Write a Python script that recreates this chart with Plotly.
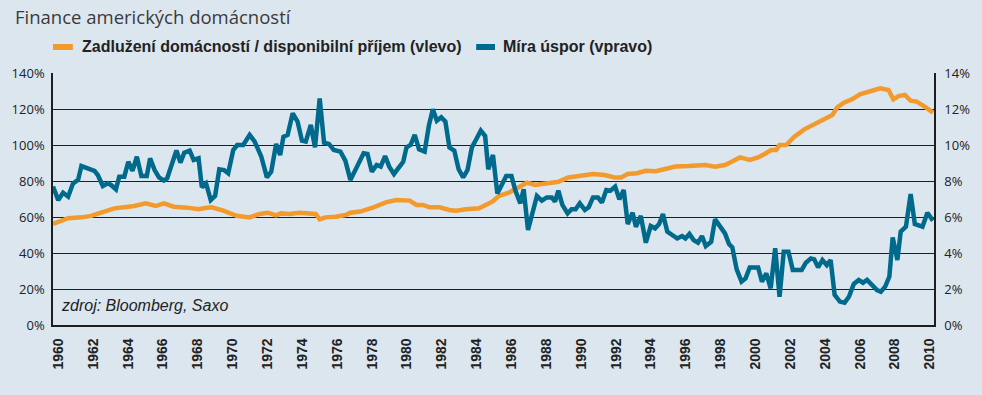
import plotly.graph_objects as go

# Household debt / disposable income (left axis, %)
debt_years = [1959.70, 1960.00, 1960.57, 1961.33, 1961.89, 1962.46, 1963.22, 1963.79, 1964.36, 1965.02,
              1965.59, 1966.06, 1966.63, 1967.39, 1968.05, 1968.43, 1968.81, 1969.47, 1970.23, 1970.98,
              1971.55, 1972.03, 1972.50, 1972.78, 1973.26, 1973.83, 1974.39, 1974.77, 1975.00, 1975.34,
              1975.91, 1976.48, 1976.76, 1977.33, 1978.08, 1978.84, 1979.41, 1980.17, 1980.55, 1980.92,
              1981.30, 1981.87, 1982.44, 1982.82, 1983.39, 1984.14, 1984.52, 1984.90, 1985.28, 1985.85,
              1986.42, 1986.89, 1987.36, 1987.93, 1988.69, 1989.26, 1990.02, 1990.68, 1991.34, 1991.91,
              1992.29, 1992.67, 1993.20, 1993.71, 1994.28, 1994.84, 1995.41, 1996.17, 1997.12, 1997.68,
              1998.25, 1998.63, 1999.11, 1999.67, 2000.15, 2000.52, 2000.90, 2001.19, 2001.38, 2001.76,
              2002.23, 2002.80, 2003.37, 2003.84, 2004.41, 2004.69, 2005.07, 2005.54, 2006.02, 2006.49,
              2007.15, 2007.63, 2007.91, 2008.20, 2008.57, 2008.90, 2009.24, 2009.71, 2010.18]
debt_ratio = [56.1, 57.2, 59.3, 59.8, 60.6, 62.4, 64.8, 65.4, 66.1, 67.6,
              66.1, 67.6, 65.7, 65.2, 64.3, 65.0, 65.4, 63.5, 60.7, 59.8,
              61.7, 62.4, 60.9, 62.0, 61.7, 62.4, 61.7, 61.7, 58.7, 59.8,
              60.2, 61.1, 62.4, 63.0, 65.4, 68.3, 69.4, 69.1, 66.7, 66.7,
              65.4, 65.4, 63.9, 63.5, 64.3, 64.8, 66.7, 68.5, 71.7, 73.5,
              76.5, 79.1, 77.8, 78.7, 79.6, 82.0, 82.8, 83.9, 83.3, 82.0,
              82.0, 83.9, 84.3, 85.7, 85.4, 86.9, 88.0, 88.3, 88.9, 88.0,
              88.9, 90.7, 93.1, 91.7, 93.1, 95.0, 97.2, 97.2, 100.0, 100.0,
              104.6, 108.7, 111.7, 114.3, 116.7, 120.9, 123.5, 125.4, 128.3, 129.6,
              131.5, 130.6, 125.4, 127.2, 127.8, 124.6, 124.1, 121.3, 118.0]

# Personal saving rate (right axis, %)
saving_years = [1959.70, 1960.00, 1960.28, 1960.57, 1960.85, 1961.14, 1961.33, 1961.70, 1962.08, 1962.27,
                1962.56, 1962.84, 1963.03, 1963.31, 1963.50, 1963.79, 1964.02, 1964.26, 1964.51, 1964.77,
                1965.08, 1965.27, 1965.53, 1965.78, 1966.06, 1966.25, 1966.53, 1966.78, 1967.01, 1967.23,
                1967.54, 1967.77, 1968.05, 1968.24, 1968.48, 1968.75, 1969.00, 1969.24, 1969.51, 1969.75,
                1970.04, 1970.27, 1970.61, 1970.98, 1971.27, 1971.65, 1971.97, 1972.22, 1972.50, 1972.73,
                1972.92, 1973.16, 1973.45, 1973.73, 1973.98, 1974.20, 1974.49, 1974.73, 1975.00, 1975.25,
                1975.53, 1975.81, 1976.19, 1976.47, 1976.76, 1977.14, 1977.52, 1977.74, 1977.99, 1978.27,
                1978.50, 1978.75, 1978.99, 1979.26, 1979.56, 1979.79, 1979.98, 1980.21, 1980.45, 1980.70,
                1981.02, 1981.27, 1981.49, 1981.72, 1981.97, 1982.21, 1982.44, 1982.72, 1982.97, 1983.23,
                1983.48, 1983.73, 1983.96, 1984.24, 1984.49, 1984.67, 1984.94, 1985.19, 1985.47, 1985.70,
                1986.00, 1986.23, 1986.51, 1986.70, 1986.95, 1987.21, 1987.46, 1987.74, 1988.03, 1988.31,
                1988.50, 1988.69, 1988.92, 1989.22, 1989.45, 1989.68, 1989.92, 1990.21, 1990.43, 1990.68,
                1990.96, 1991.19, 1991.44, 1991.68, 1991.95, 1992.19, 1992.44, 1992.67, 1992.95, 1993.14,
                1993.42, 1993.71, 1993.99, 1994.24, 1994.47, 1994.69, 1994.94, 1995.22, 1995.51, 1995.79,
                1995.98, 1996.21, 1996.45, 1996.70, 1996.93, 1997.15, 1997.46, 1997.68, 1997.97, 1998.25,
                1998.48, 1998.67, 1998.92, 1999.20, 1999.43, 1999.67, 2000.15, 2000.37, 2000.62, 2000.87,
                2001.13, 2001.38, 2001.62, 2001.89, 2002.14, 2002.65, 2002.89, 2003.18, 2003.37, 2003.59,
                2003.84, 2004.09, 2004.31, 2004.54, 2004.84, 2005.11, 2005.36, 2005.64, 2005.92, 2006.17,
                2006.40, 2006.68, 2006.97, 2007.19, 2007.44, 2007.68, 2007.87, 2008.14, 2008.33, 2008.63,
                2008.90, 2009.14, 2009.39, 2009.58, 2009.86, 2010.18]
saving_rate = [7.69, 6.94, 7.35, 7.13, 7.87, 8.06, 8.83, 8.70, 8.56, 8.33,
               7.72, 7.87, 7.78, 7.54, 8.24, 8.24, 9.07, 8.57, 9.35, 8.28,
               8.28, 9.26, 8.61, 8.20, 8.02, 8.15, 8.98, 9.69, 9.02, 9.57,
               9.69, 9.17, 9.26, 7.65, 7.87, 6.94, 7.17, 8.65, 8.61, 8.43,
               9.72, 10.00, 10.00, 10.56, 10.19, 9.35, 8.20, 8.52, 10.06, 9.44,
               10.46, 10.56, 11.76, 11.30, 10.24, 10.19, 11.11, 9.87, 12.59, 10.13,
               10.06, 9.72, 9.63, 9.13, 8.06, 8.80, 9.54, 9.50, 8.52, 8.89,
               8.80, 9.39, 8.80, 8.39, 8.80, 9.07, 9.87, 10.00, 10.56, 9.76,
               9.63, 11.11, 11.98, 11.35, 11.54, 11.30, 9.87, 9.69, 8.65, 8.20,
               8.61, 9.87, 10.28, 10.80, 10.50, 8.65, 9.44, 7.31, 7.83, 8.28,
               8.28, 7.46, 6.76, 7.54, 5.28, 6.20, 7.17, 6.91, 7.09, 7.09,
               6.85, 7.46, 6.67, 6.20, 6.43, 6.43, 6.76, 6.39, 6.54, 7.09,
               7.09, 6.80, 7.50, 7.46, 7.69, 6.98, 7.50, 5.61, 6.24, 5.46,
               6.06, 4.57, 5.50, 5.37, 5.61, 6.17, 5.19, 5.00, 4.81, 4.94,
               4.81, 5.06, 4.72, 4.57, 4.94, 4.39, 4.63, 5.87, 5.50, 5.09,
               4.50, 4.31, 3.09, 2.41, 2.59, 3.20, 3.20, 2.41, 2.87, 2.04,
               4.26, 1.57, 4.07, 4.07, 3.06, 3.06, 3.46, 3.70, 3.65, 3.20,
               3.61, 3.33, 3.61, 1.67, 1.30, 1.24, 1.57, 2.28, 2.50, 2.35,
               2.50, 2.22, 1.94, 1.85, 2.13, 2.69, 4.87, 3.61, 5.19, 5.46,
               7.28, 5.61, 5.50, 5.46, 6.24, 5.80]

x_ticks = list(range(1960, 2011, 2))
left_ticks = [0, 20, 40, 60, 80, 100, 120, 140]
right_ticks = [0, 2, 4, 6, 8, 10, 12, 14]

title_text = "Finance amerických domácností"
debt_name = "Zadlužení domácností / disponibilní příjem (vlevo)"
saving_name = "Míra úspor (vpravo)"
source_text = "zdroj: Bloomberg, Saxo"

ORANGE = "#f39a2c"
BLUE = "#006a8c"
BG = "#dce6ef"
GRID = "#1e1e1e"

fig = go.Figure()
fig.add_trace(go.Scatter(x=saving_years, y=saving_rate, name=saving_name, yaxis="y2",
                         mode="lines", line=dict(color=BLUE, width=4.5), showlegend=False))
fig.add_trace(go.Scatter(x=debt_years, y=debt_ratio, name=debt_name, yaxis="y",
                         mode="lines", line=dict(color=ORANGE, width=4.5), showlegend=False))

fig.update_layout(
    width=982, height=395,
    paper_bgcolor=BG, plot_bgcolor=BG,
    margin=dict(l=50, r=43, t=73, b=70),
    font=dict(family="Open Sans, Arial", color="#222"),
    xaxis=dict(range=[1959.70, 2010.24], tickmode="array", tickvals=x_ticks,
               ticktext=[str(v) for v in x_ticks], tickangle=-90,
               tickfont=dict(family="Liberation Sans, Arial", size=14, color="#222", weight="bold"),
               showgrid=False, zeroline=False, showline=True, linecolor=GRID, linewidth=1.5,
               ticks="", ticklabelstandoff=6),
    yaxis=dict(range=[0, 140], tickmode="array", tickvals=left_ticks,
               ticktext=[f"{v}%" for v in left_ticks],
               tickfont=dict(family="Open Sans", size=13, color="#222"),
               showgrid=True, gridcolor=GRID, gridwidth=1, zeroline=False,
               showline=True, linecolor=GRID, linewidth=1.5, ticks="", ticklabelstandoff=4),
    yaxis2=dict(range=[0, 14], tickmode="array", tickvals=right_ticks,
                ticktext=[f"{v}%" for v in right_ticks],
                tickfont=dict(family="Open Sans", size=13, color="#222"),
                overlaying="y", side="right", showgrid=False, zeroline=False,
                showline=True, linecolor=GRID, linewidth=1.5, ticks="", ticklabelstandoff=6),
)

# Title
fig.add_annotation(text=title_text, xref="paper", yref="paper", x=-50/889, y=1 + (73 - 17) / 252,
                   xanchor="left", yanchor="middle", showarrow=False, xshift=10,
                   font=dict(family="Open Sans", size=18.5, color="#3a3a3a"))

# Legend (custom)
leg_y = 1 + (73 - 47) / 252
fig.add_shape(type="line", xref="paper", yref="paper", x0=(50 - 50) / 889, x1=(70 - 50) / 889,
              y0=leg_y, y1=leg_y, line=dict(color=ORANGE, width=6))
fig.add_annotation(text=f"<b>{debt_name}</b>", xref="paper", yref="paper", x=(77 - 50) / 889, y=leg_y,
                   xanchor="left", yanchor="middle", showarrow=False,
                   font=dict(family="Liberation Sans, Arial", size=16, color="#222"))
fig.add_shape(type="line", xref="paper", yref="paper", x0=(477 - 50) / 889, x1=(496 - 50) / 889,
              y0=leg_y, y1=leg_y, line=dict(color=BLUE, width=6))
fig.add_annotation(text=f"<b>{saving_name}</b>", xref="paper", yref="paper", x=(502 - 50) / 889, y=leg_y,
                   xanchor="left", yanchor="middle", showarrow=False,
                   font=dict(family="Liberation Sans, Arial", size=16, color="#222"))

# Source note
fig.add_annotation(text=f"<i>{source_text}</i>", xref="paper", yref="paper", x=(56 - 50) / 889,
                   y=(325 - 305) / 252, xanchor="left", yanchor="middle", showarrow=False,
                   font=dict(family="Liberation Sans, Arial", size=16, color="#222"))

fig.write_html("out.html", config={"displayModeBar": False},
               post_script="document.body.style.margin='0';document.body.style.overflow='hidden';")
